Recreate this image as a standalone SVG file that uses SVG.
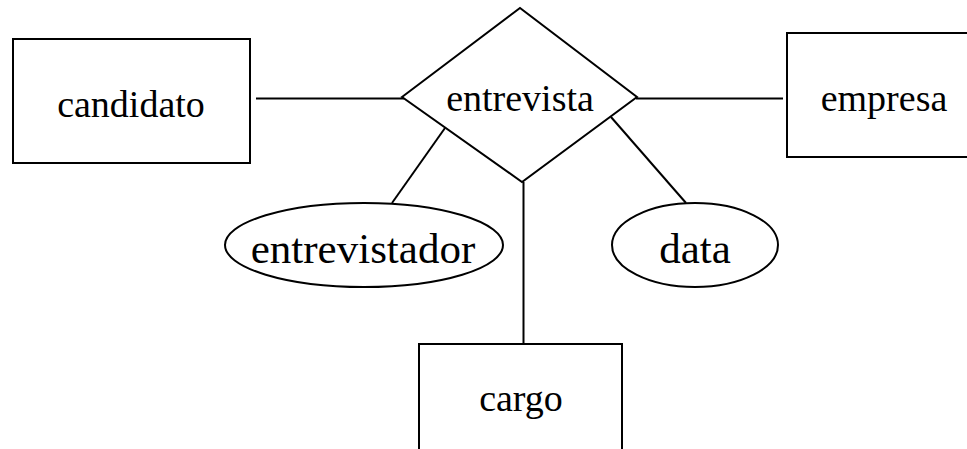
<svg xmlns="http://www.w3.org/2000/svg" width="967" height="449" viewBox="0 0 967 449">
<style>
.s{fill:#fff;stroke:#000;stroke-width:2}
.c{stroke:#000;stroke-width:2;fill:none}
.t{font-family:"Liberation Serif","Times New Roman",serif;font-size:38px;fill:#000;text-anchor:middle}
.b{font-size:43px}
</style>
<rect width="967" height="449" fill="#fff"/>
<g id="connectors">
<line class="c" x1="256" y1="98.5" x2="404" y2="98.5"/>
<line class="c" x1="636" y1="98.5" x2="783" y2="98.5"/>
<line class="c" x1="445" y1="128" x2="392" y2="203"/>
<line class="c" x1="611" y1="117" x2="686" y2="203"/>
<line class="c" x1="523.5" y1="182" x2="523.5" y2="344"/>
</g>
<g id="candidato">
<rect class="s" x="13" y="39" width="237" height="124"/>
<text class="t" x="131" y="117">candidato</text>
</g>
<g id="entrevista">
<polygon class="s" points="402,97 520,8 637,97 522,182"/>
<text class="t" x="520" y="111">entrevista</text>
</g>
<g id="empresa">
<rect class="s" x="787" y="33" width="200" height="124"/>
<text class="t" x="884" y="111">empresa</text>
</g>
<g id="entrevistador">
<ellipse class="s" cx="364" cy="245" rx="139" ry="42"/>
<text class="t b" x="363" y="263">entrevistador</text>
</g>
<g id="data">
<ellipse class="s" cx="695" cy="245" rx="83" ry="42"/>
<text class="t b" x="695" y="263">data</text>
</g>
<g id="cargo">
<rect class="s" x="419" y="344" width="203" height="120"/>
<text class="t" x="521" y="411">cargo</text>
</g>
</svg>
